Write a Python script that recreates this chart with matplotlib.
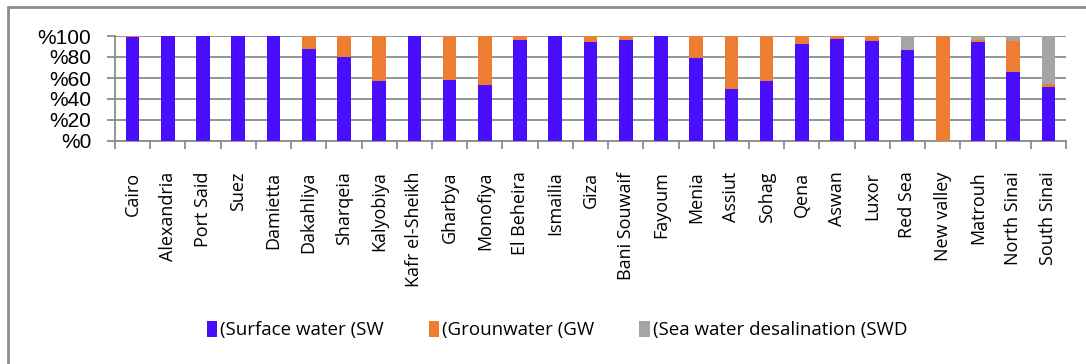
import matplotlib.pyplot as plt
import numpy as np
from matplotlib.patches import Rectangle

# governorates and share of each water source (%)
governorates = ["Cairo", "Alexandria", "Port Said", "Suez", "Damietta", "Dakahliya",
                "Sharqeia", "Kalyobiya", "Kafr el-Sheikh", "Gharbya", "Monofiya",
                "El Beheira", "Ismailia", "Giza", "Bani Souwaif", "Fayoum", "Menia",
                "Assiut", "Sohag", "Qena", "Aswan", "Luxor", "Red Sea", "New valley",
                "Matrouh", "North Sinai", "South Sinai"]
surface = [99.5, 100, 100, 100, 100, 88, 80, 57, 100, 58, 53, 96.5, 100, 94, 96, 100,
           79, 50, 57, 92, 97, 95.5, 87, 0, 94, 66, 51.5]
ground = [0.5, 0, 0, 0, 0, 12, 20, 43, 0, 42, 47, 3.5, 0, 6, 4, 0,
          21, 50, 43, 8, 3, 4.5, 0, 100, 2.5, 29, 3]
desal = [0, 0, 0, 0, 0, 0, 0, 0, 0, 0, 0, 0, 0, 0, 0, 0,
         0, 0, 0, 0, 0, 0, 13, 0, 3.5, 5, 45.5]
series_names = ["(Surface water (SW", "(Grounwater (GW", "(Sea water desalination (SWD"]
yticks = [0, 20, 40, 60, 80, 100]

colors = ["#4A0EFF", "#ED7D31", "#A5A5A5"]

fig = plt.figure(figsize=(10.86, 3.64), dpi=100)
ax = fig.add_axes([115/1086, 1 - 141/364, (1066 - 115)/1086, 105/364])

x = np.arange(len(governorates))
bottom = np.zeros(len(governorates))
for vals, c, name in zip([surface, ground, desal], colors, series_names):
    ax.bar(x, vals, bottom=bottom, width=0.39, color=c, label=name, zorder=3)
    bottom += np.array(vals)

ax.set_xlim(-0.5, len(governorates) - 0.5)
ax.set_ylim(0, 100)
ax.set_yticks(yticks)
ax.set_yticklabels(["%" + str(v) for v in yticks], fontsize=15, family="Liberation Sans")
ax.yaxis.grid(True, color="#8C8C8C", linewidth=1.3, zorder=0)
ax.tick_params(axis="y", length=6, color="#8C8C8C", width=1.3, pad=11)

# category labels between boundary ticks
ax.set_xticks(np.arange(len(governorates) + 1) - 0.5)
ax.set_xticklabels([])
ax.tick_params(axis="x", length=6, color="#8C8C8C", width=1.3)
ax.set_xticks(x, minor=True)
ax.set_xticklabels(governorates, minor=True, rotation=90, fontsize=13,
                   family="Open Sans", va="top", ha="center")
ax.tick_params(axis="x", which="minor", length=0, pad=22)

for s in ["top", "right"]:
    ax.spines[s].set_visible(False)
for s in ["left", "bottom"]:
    ax.spines[s].set_color("#8C8C8C")
    ax.spines[s].set_linewidth(1.3)

fig.legend(loc="center", bbox_to_anchor=(0.513, 1 - 330/364), ncol=3, frameon=False,
           prop={"family": "Open Sans", "size": 13.5}, handlelength=0.55, handleheight=1.0,
           handletextpad=0.15, columnspacing=2.4)

# outer chart border (cropped at right/bottom)
fig.patches.append(Rectangle((8/1086, -0.1), 1.1, 1 - 7/364 + 0.1, transform=fig.transFigure,
                             fill=False, edgecolor="#8C8C8C", linewidth=2))

fig.savefig("out.png", dpi=100)
